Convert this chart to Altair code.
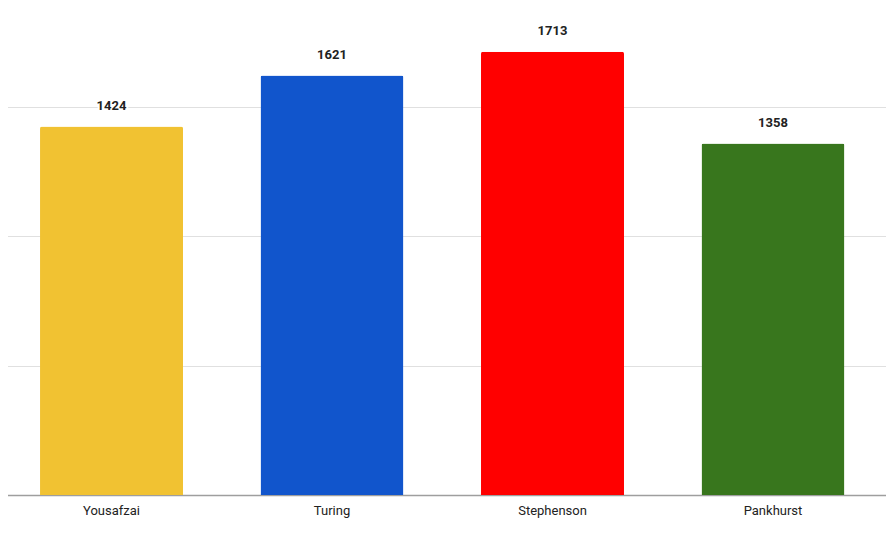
import altair as alt
import pandas as pd

names = ["Yousafzai", "Turing", "Stephenson", "Pankhurst"]
values = [1424, 1621, 1713, 1358]
colors = ["#F1C232", "#1155CC", "#FF0000", "#38761D"]

df = pd.DataFrame({"name": names, "value": values, "color": colors})

x = alt.X("name:N", sort=names, title=None,
          scale=alt.Scale(paddingInner=0.3515, paddingOuter=0.203, align=0.447),
          axis=alt.Axis(labelAngle=0, labelFont="Roboto", labelFontSize=13,
                        labelColor="#222222", labelPadding=9, ticks=False,
                        domainColor="#9e9e9e", domainWidth=1.5, grid=False))
y = alt.Y("value:Q", title=None,
          scale=alt.Scale(domain=[0, 1913], nice=False),
          axis=alt.Axis(values=[500, 1000, 1500], labels=False, ticks=False,
                        domain=False, grid=True, gridColor="#e0e0e0", gridWidth=1))

base = alt.Chart(df)

bars = base.mark_bar(cornerRadiusTopLeft=2, cornerRadiusTopRight=2).encode(
    x=x, y=y, color=alt.Color("color:N", scale=None)
)

halo = base.mark_text(dy=-21, baseline="middle", font="Roboto", fontSize=13,
                      fontWeight="bold", stroke="white", strokeWidth=4,
                      fill="white").encode(
    x=alt.X("name:N", sort=names), y="value:Q", text="value:Q"
)
labels = base.mark_text(dy=-21, baseline="middle", font="Roboto", fontSize=13,
                        fontWeight="bold", color="#222222").encode(
    x=alt.X("name:N", sort=names), y="value:Q", text="value:Q"
)

chart = alt.layer(bars, halo, labels).properties(
    width=894, height=495,
    padding={"left": -8, "top": -8, "right": -8, "bottom": 10},
).configure_view(stroke=None)

chart.save("out.html", embed_options={"renderer": "svg", "actions": False})
